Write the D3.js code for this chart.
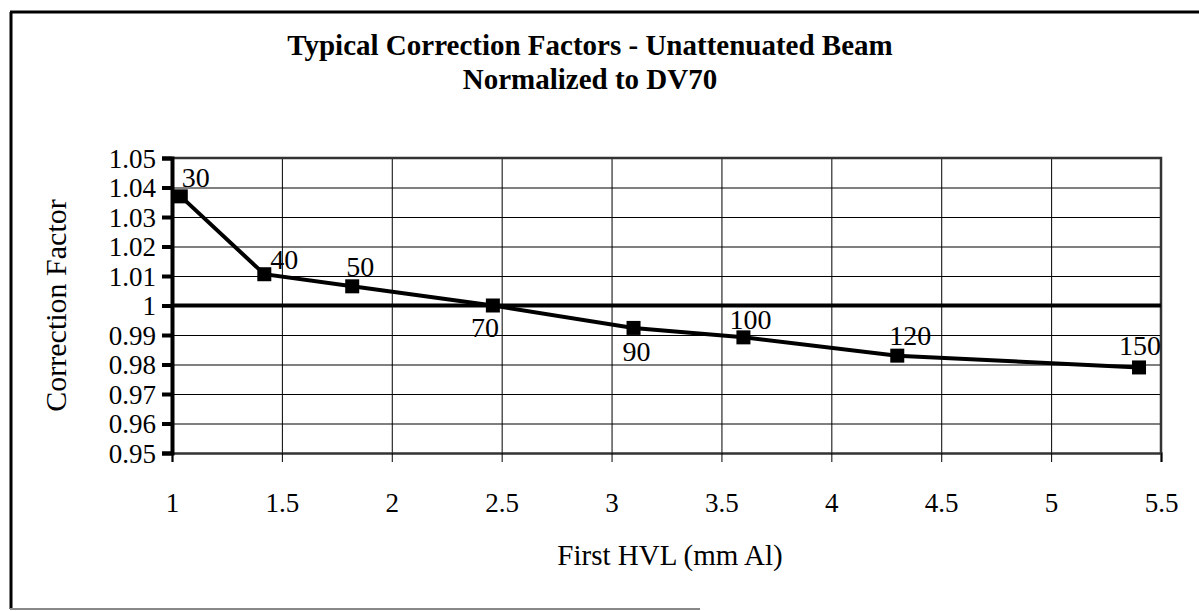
<!DOCTYPE html>
<html>
<head>
<meta charset="utf-8">
<script src="https://cdn.jsdelivr.net/npm/d3@7"></script>
<style>
  body { margin: 0; background: #fff; }
  .grid line { stroke: #000; stroke-width: 1; }
  .grid .domain { display: none; }
</style>
</head>
<body>
<script>
const width = 1199;
const height = 611;
const margin = { top: 158, right: 38, bottom: 158, left: 172 };
const serif = "Liberation Serif, Times New Roman, serif";

// First HVL (mm Al) per kV
const kvLabels = ["30", "40", "50", "70", "90", "100", "120", "150"];
const hvl = [1.04, 1.42, 1.82, 2.46, 3.1, 3.6, 4.3, 5.4];
const factor = [1.037, 1.0106, 1.0065, 1.0, 0.9924, 0.9892, 0.983, 0.979];

const xTicks = [1, 1.5, 2, 2.5, 3, 3.5, 4, 4.5, 5, 5.5];
const yTicks = [0.95, 0.96, 0.97, 0.98, 0.99, 1, 1.01, 1.02, 1.03, 1.04, 1.05];

// label placement: [dx, dy] from the marker (left edge, baseline)
const labelOffset = [[1, -9], [6, -5], [-6, -10], [-22, 31], [-11, 33], [-14, -8], [-8, -11], [-20, -12]];

const svg = d3.select("body").append("svg")
  .attr("width", width)
  .attr("height", height)
  .attr("font-family", serif);

// outer frame
svg.append("line").attr("x1", 10).attr("y1", 12).attr("x2", width).attr("y2", 12)
  .attr("stroke", "#000").attr("stroke-width", 3);
svg.append("line").attr("x1", 11).attr("y1", 12).attr("x2", 11).attr("y2", 609)
  .attr("stroke", "#000").attr("stroke-width", 3);
svg.append("line").attr("x1", 10).attr("y1", 609).attr("x2", 700).attr("y2", 609)
  .attr("stroke", "#888").attr("stroke-width", 2);

const x = d3.scaleLinear().domain([1, 5.5]).range([margin.left, width - margin.right]);
const y = d3.scaleLinear().domain([0.95, 1.05]).range([height - margin.bottom, margin.top]);

// grid
svg.append("g")
  .attr("class", "grid")
  .attr("transform", `translate(0,${margin.top})`)
  .call(d3.axisBottom(x).tickValues(xTicks).tickSize(height - margin.bottom - margin.top).tickFormat(""));

svg.append("g")
  .attr("class", "grid")
  .attr("transform", `translate(${margin.left},0)`)
  .call(d3.axisRight(y).tickValues(yTicks).tickSize(width - margin.right - margin.left).tickFormat(""));

// plot frame top/right
svg.append("path")
  .attr("d", `M${margin.left},${y(1.05)}H${x(5.5)}V${y(0.95)}`)
  .attr("fill", "none").attr("stroke", "#333").attr("stroke-width", 2.5);

// x axis
const xAxis = svg.append("g")
  .attr("transform", `translate(0,${y(0.95)})`)
  .call(d3.axisBottom(x).tickValues(xTicks).tickSize(9).tickPadding(31).tickFormat(d3.format("")));
xAxis.attr("font-family", serif).attr("font-size", 27);
xAxis.select(".domain").attr("stroke", "#333").attr("stroke-width", 2.5);
xAxis.selectAll(".tick line").attr("stroke", "#000").attr("stroke-width", 1);

// y axis
const yAxis = svg.append("g")
  .attr("transform", `translate(${margin.left},0)`)
  .call(d3.axisLeft(y).tickValues(yTicks).tickSize(10).tickPadding(6).tickFormat(d3.format("")));
yAxis.attr("font-family", serif).attr("font-size", 27);
yAxis.select(".domain").attr("stroke", "#000").attr("stroke-width", 4);
yAxis.selectAll(".tick line").attr("stroke", "#000").attr("stroke-width", 4);
yAxis.selectAll("text").attr("dy", "0.34em");

// reference line at 1.0
svg.append("line")
  .attr("x1", margin.left).attr("x2", x(5.5))
  .attr("y1", y(1)).attr("y2", y(1))
  .attr("stroke", "#000").attr("stroke-width", 4);

// series
const pts = hvl.map((h, i) => ({ h: h, f: factor[i], kv: kvLabels[i], off: labelOffset[i] }));

svg.append("path")
  .datum(pts)
  .attr("fill", "none")
  .attr("stroke", "#000")
  .attr("stroke-width", 4)
  .attr("d", d3.line().x(d => x(d.h)).y(d => y(d.f)));

svg.selectAll(".marker")
  .data(pts)
  .enter()
  .append("rect")
  .attr("class", "marker")
  .attr("x", d => x(d.h) - 7)
  .attr("y", d => y(d.f) - 7)
  .attr("width", 14)
  .attr("height", 14)
  .attr("fill", "#000");

svg.selectAll(".kv")
  .data(pts)
  .enter()
  .append("text")
  .attr("class", "kv")
  .attr("x", d => x(d.h) + d.off[0])
  .attr("y", d => y(d.f) + d.off[1])
  .attr("font-size", 28)
  .text(d => d.kv);

// titles
svg.append("text")
  .attr("x", 590).attr("y", 55)
  .attr("text-anchor", "middle")
  .attr("font-size", 29).attr("font-weight", "bold")
  .text("Typical Correction Factors - Unattenuated Beam");
svg.append("text")
  .attr("x", 590).attr("y", 89)
  .attr("text-anchor", "middle")
  .attr("font-size", 29).attr("font-weight", "bold")
  .text("Normalized to DV70");

svg.append("text")
  .attr("transform", `translate(66,${y(1)}) rotate(-90)`)
  .attr("text-anchor", "middle")
  .attr("font-size", 30)
  .text("Correction Factor");

svg.append("text")
  .attr("x", 670).attr("y", 565)
  .attr("text-anchor", "middle")
  .attr("font-size", 29)
  .text("First HVL (mm Al)");
</script>
</body>
</html>
